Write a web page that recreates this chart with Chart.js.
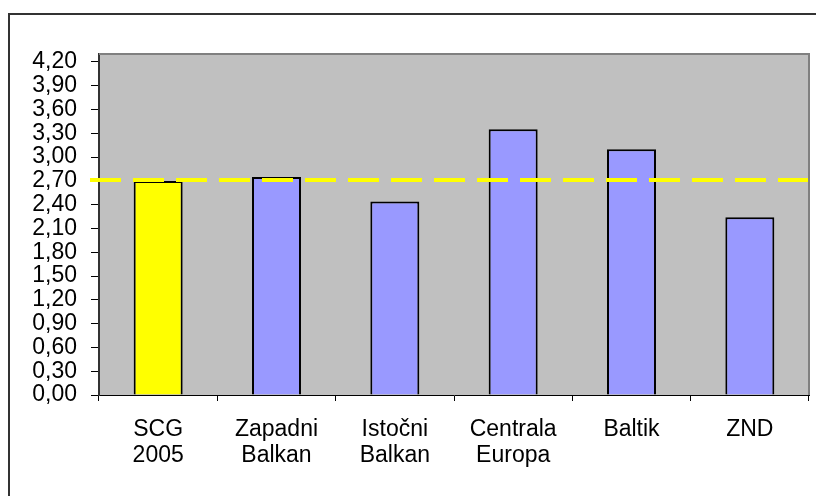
<!DOCTYPE html>
<html>
<head>
<meta charset="utf-8">
<script src="https://cdn.jsdelivr.net/npm/chart.js@4"></script>
<style>
  html, body { margin: 0; padding: 0; background: #fff; }
  canvas { display: block; }
</style>
</head>
<body>
<canvas id="chart" width="816" height="496"></canvas>
<script>
// Kategorije i vrijednosti
const categories = [['SCG', '2005'], ['Zapadni', 'Balkan'], ['Istočni', 'Balkan'], ['Centrala', 'Europa'], ['Baltik'], ['ZND']];
const values = [2.70, 2.75, 2.44, 3.35, 3.10, 2.24];
const barColors = ['#FFFF00', '#9999FF', '#9999FF', '#9999FF', '#9999FF', '#9999FF'];
const referenceLine = [2.71];
const yTicks = [0, 0.3, 0.6, 0.9, 1.2, 1.5, 1.8, 2.1, 2.4, 2.7, 3.0, 3.3, 3.6, 3.9, 4.2];
const yMin = 0;
const yMax = 4.3;

const fontFamily = "'Liberation Sans', Arial, sans-serif";

// Okvir, pozadina i isprekidana linija
const decorPlugin = {
    id: 'decor',
    beforeDraw(chart) {
        const ctx = chart.ctx;
        const a = chart.chartArea;
        ctx.save();
        ctx.fillStyle = '#fff';
        ctx.fillRect(0, 0, chart.width, chart.height);
        ctx.strokeStyle = '#333';
        ctx.lineWidth = 2;
        ctx.strokeRect(9, 14, chart.width + 20, chart.height + 20);
        ctx.fillStyle = '#C0C0C0';
        ctx.fillRect(a.left, a.top, a.right - a.left, a.bottom - a.top);
        ctx.restore();
    },
    afterDatasetsDraw(chart) {
        const ctx = chart.ctx;
        const a = chart.chartArea;
        const y = chart.scales.y.getPixelForValue(referenceLine[0]);
        ctx.save();
        ctx.strokeStyle = '#FFFF00';
        ctx.lineWidth = 4;
        ctx.setLineDash([31, 12]);
        ctx.beginPath();
        ctx.moveTo(a.left - 9, y);
        ctx.lineTo(a.right, y);
        ctx.stroke();
        ctx.restore();
    },
    afterDraw(chart) {
        const ctx = chart.ctx;
        const a = chart.chartArea;
        ctx.save();
        ctx.strokeStyle = '#808080';
        ctx.lineWidth = 2;
        ctx.beginPath();
        ctx.moveTo(a.left, a.top);
        ctx.lineTo(a.right, a.top);
        ctx.lineTo(a.right, a.bottom);
        ctx.stroke();
        ctx.restore();
    }
};

new Chart(document.getElementById('chart'), {
    type: 'bar',
    data: {
        labels: categories,
        datasets: [{
            data: values,
            backgroundColor: barColors,
            borderColor: '#000',
            borderWidth: 2,
            categoryPercentage: 1,
            barPercentage: 0.414
        }]
    },
    options: {
        responsive: false,
        animation: false,
        layout: { padding: { top: 54, right: 7, left: 0, bottom: 0 } },
        plugins: {
            legend: { display: false },
            tooltip: { enabled: false }
        },
        scales: {
            x: {
                afterFit(scale) { scale.height = 101; },
                grid: {
                    offset: true,
                    drawOnChartArea: false,
                    drawTicks: true,
                    tickLength: 6,
                    tickColor: '#000',
                    color: '#000'
                },
                border: { color: '#000', width: 1 },
                ticks: {
                    color: '#000',
                    padding: 15,
                    maxRotation: 0,
                    autoSkip: false,
                    font: { family: fontFamily, size: 23, lineHeight: 1.15 }
                }
            },
            y: {
                min: yMin,
                max: yMax,
                afterFit(scale) { scale.width = 99; },
                afterBuildTicks(scale) {
                    scale.ticks = yTicks.map(v => ({ value: v }));
                },
                grid: {
                    drawOnChartArea: false,
                    drawTicks: true,
                    tickLength: 8,
                    tickColor: '#000',
                    color: '#000'
                },
                border: { color: '#333', width: 2 },
                ticks: {
                    autoSkip: false,
                    color: '#000',
                    padding: 14,
                    font: { family: fontFamily, size: 23 },
                    callback: v => v.toFixed(2).replace('.', ',')
                }
            }
        }
    },
    plugins: [decorPlugin]
});
</script>
</body>
</html>
